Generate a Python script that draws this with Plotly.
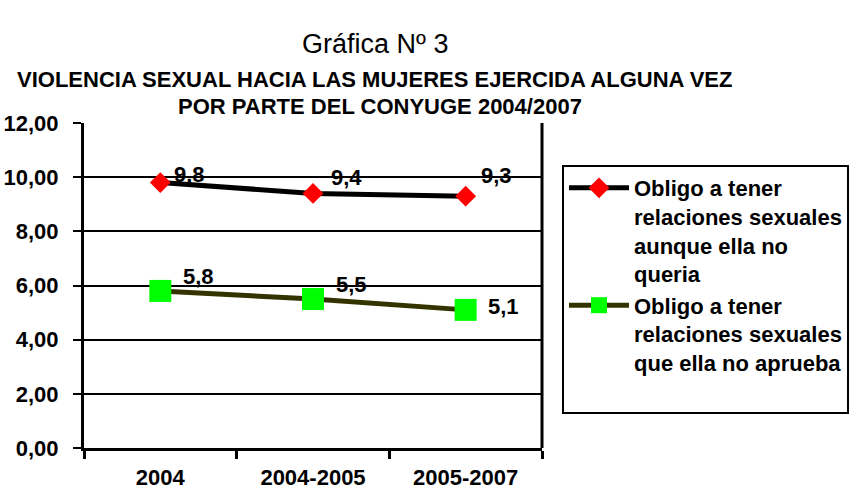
import plotly.graph_objects as go

categories = ["2004", "2004-2005", "2005-2007"]
series1_name = "Obligo a tener<br>relaciones sexuales<br>aunque ella no<br>queria"
series1_values = [9.8, 9.4, 9.3]
series1_labels = ["9,8", "9,4", "9,3"]
series2_name = "Obligo a tener<br>relaciones sexuales<br>que ella no aprueba<br> "
series2_values = [5.8, 5.5, 5.1]
series2_labels = ["5,8", "5,5", "5,1"]
y_ticks = [0, 2, 4, 6, 8, 10, 12]

title_text = "Gráfica Nº 3"
subtitle_line1 = "VIOLENCIA SEXUAL HACIA LAS MUJERES EJERCIDA ALGUNA VEZ"
subtitle_line2 = "POR PARTE DEL CONYUGE 2004/2007"

# label offsets (pixels) relative to each marker: (dx to left edge, dy up)
label_offsets1 = [(12, 8), (16, 16), (13, 21)]
label_offsets2 = [(21, 14), (21, 15), (20, 3)]

FONT = "Liberation Sans, Arial, sans-serif"

# plot area in pixels
L, R, T, B = 84, 542, 123, 448
W, H = 854, 491

fig = go.Figure()
fig.add_trace(go.Scatter(
    x=categories, y=series1_values, name=series1_name,
    mode="lines+markers",
    line=dict(color="black", width=5),
    marker=dict(symbol="diamond", size=16, color="#ff0000"),
    cliponaxis=False,
))
fig.add_trace(go.Scatter(
    x=categories, y=series2_values, name=series2_name,
    mode="lines+markers",
    line=dict(color="#333300", width=5),
    marker=dict(symbol="square", size=22, color="#00ff00"),
    cliponaxis=False,
))

for vals, labs, offs in [(series1_values, series1_labels, label_offsets1),
                         (series2_values, series2_labels, label_offsets2)]:
    for i, (v, t, (dx, dy)) in enumerate(zip(vals, labs, offs)):
        fig.add_annotation(x=i, y=v, xref="x", yref="y", text=t, showarrow=False,
                           xanchor="left", yanchor="middle", xshift=dx, yshift=dy,
                           font=dict(family=FONT, size=22, color="black", weight="bold"))

def px_to_paper(px, py):
    return (px - L) / (R - L), (B - py) / (B - T)

ax, ay = px_to_paper(375, 27)
fig.add_annotation(text=title_text, x=ax, y=ay, xref="paper", yref="paper",
                   showarrow=False, font=dict(family=FONT, size=27, color="black"))
ax, ay = px_to_paper(374, 65)
fig.add_annotation(text=subtitle_line1, x=ax, y=ay, xref="paper", yref="paper",
                   showarrow=False, font=dict(family=FONT, size=22, color="black", weight="bold"))
ax, ay = px_to_paper(380, 92)
fig.add_annotation(text=subtitle_line2, x=ax, y=ay, xref="paper", yref="paper",
                   showarrow=False, font=dict(family=FONT, size=22, color="black", weight="bold"))

lx, ly = px_to_paper(562, 165)
fig.update_layout(
    width=W, height=H,
    margin=dict(l=L, r=W - R, t=T, b=H - B, autoexpand=False),
    paper_bgcolor="white", plot_bgcolor="white",
    separators=",.",
    font=dict(family=FONT, size=22, color="black"),
    showlegend=True,
    hovermode=False,
    legend=dict(
        x=lx, y=ly, xanchor="left", yanchor="top",
        bordercolor="black", borderwidth=2, bgcolor="white",
        font=dict(family=FONT, size=22, color="black", weight="bold"),
        itemwidth=60, valign="top", tracegroupgap=4,
    ),
)

fig.update_xaxes(
    type="category", range=[-0.5, 2.5],
    showline=True, linecolor="black", linewidth=3, mirror=False,
    ticks="outside", tickson="boundaries", ticklen=8, tickwidth=3, tickcolor="black",
    showgrid=False, ticklabelstandoff=8,
    tickfont=dict(family=FONT, size=22, color="black", weight="bold"),
)
fig.update_yaxes(
    range=[0, 12], tickvals=y_ticks, tickformat=".2f",
    showline=True, linecolor="black", linewidth=3,
    ticks="outside", ticklen=8, tickwidth=2, tickcolor="black",
    showgrid=True, gridcolor="black", gridwidth=2,
    zeroline=False, ticklabelstandoff=10,
    tickfont=dict(family=FONT, size=22, color="black", weight="bold"),
)
fig.add_shape(type="line", xref="paper", yref="paper", x0=1, x1=1, y0=0, y1=1,
              line=dict(color="black", width=3))

fig.write_html("out.html", config={"displayModeBar": False},
               post_script="document.body.style.margin='0';")
